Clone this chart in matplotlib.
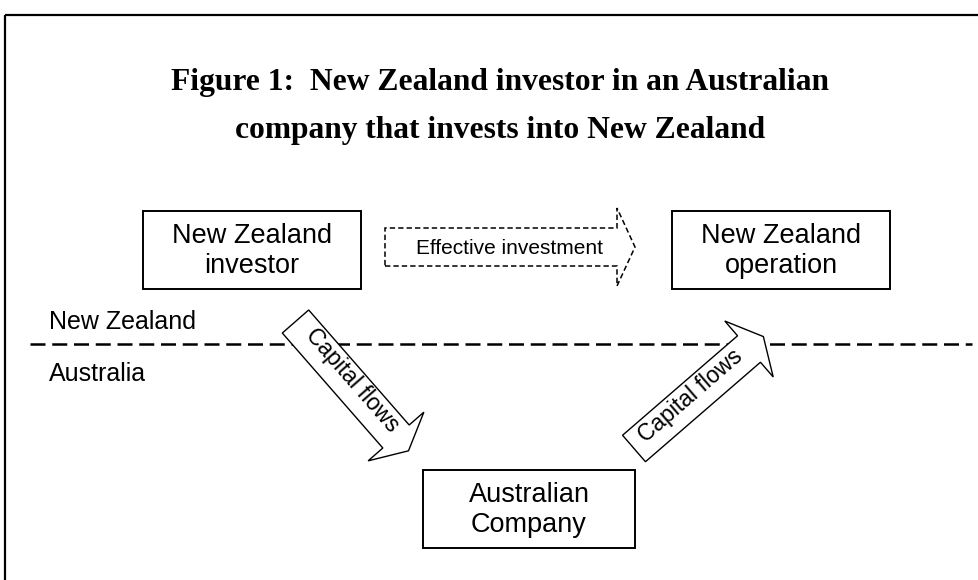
import numpy as np
import matplotlib
matplotlib.use("Agg")
import matplotlib.pyplot as plt
from matplotlib.patches import Polygon, Rectangle

# ---- content ----
title_lines = ["Figure 1:  New Zealand investor in an Australian",
               "company that invests into New Zealand"]
box_labels = ["New Zealand\ninvestor", "New Zealand\noperation", "Australian\nCompany"]
region_labels = ["New Zealand", "Australia"]
arrow_labels = ["Effective investment", "Capital flows", "Capital flows"]

W, H = 979, 580
fig = plt.figure(figsize=(W / 100, H / 100), dpi=100)
ax = fig.add_axes([0, 0, 1, 1])
ax.set_xlim(0, W)
ax.set_ylim(H, 0)
ax.axis("off")

serif = ["Liberation Serif", "DejaVu Serif"]
sans = ["Liberation Sans", "DejaVu Sans"]

# outer frame (top and left edges)
ax.plot([5, W], [15, 15], color="black", lw=1.6, solid_capstyle="butt")
ax.plot([5, 5], [15, H], color="black", lw=1.6, solid_capstyle="butt")

# title
ax.text(500, 90, title_lines[0], ha="center", va="baseline", fontsize=22.7,
        fontweight="bold", family=serif)
ax.text(500, 138, title_lines[1], ha="center", va="baseline", fontsize=22.7,
        fontweight="bold", family=serif)

# boxes
boxes = [(143, 211, 218, 78), (672, 211, 218, 78), (423, 470, 212, 78)]
for (x, y, w, h), lab in zip(boxes, box_labels):
    ax.add_patch(Rectangle((x, y), w, h, fill=False, ec="black", lw=1.4))
    ax.text(x + w / 2, y + h / 2 + 1, lab, ha="center", va="center",
            fontsize=19.5, family=sans, linespacing=1.2)

# border line between countries
ax.plot([30, 972], [344, 344], color="black", lw=1.8, dashes=(6, 2.7))
ax.text(49, 322, region_labels[0], ha="left", va="center", fontsize=18, family=sans)
ax.text(49, 374, region_labels[1], ha="left", va="center", fontsize=18, family=sans)


def arrow_poly(tail, base, shaft_hw, head_hw, head_len):
    tail = np.asarray(tail, float)
    base = np.asarray(base, float)
    d = base - tail
    u = d / np.hypot(*d)
    p = np.array([-u[1], u[0]])
    tip = base + u * head_len
    return np.array([
        tail + p * shaft_hw,
        base + p * shaft_hw,
        base + p * head_hw,
        tip,
        base - p * head_hw,
        base - p * shaft_hw,
        tail - p * shaft_hw,
    ])


# effective investment (dashed)
pts = arrow_poly((385, 247), (617, 247), 19, 39, 18)
ax.add_patch(Polygon(pts, closed=True, fill=False, ec="black", lw=1.1,
                     linestyle=(0, (3.5, 2))))
ax.text(510, 248, arrow_labels[0], ha="center", va="center", fontsize=15, family=sans)

# capital flows arrows
arrows = [((295.5, 321.5), (396, 436.5)), ((634, 448.5), (749, 349))]
text_pos = [(352, 380), (690, 396)]
for (t, b), lab, tp in zip(arrows, arrow_labels[1:], text_pos):
    pts = arrow_poly(t, b, 17.5, 37, 19)
    ax.add_patch(Polygon(pts, closed=True, fc="white", ec="black", lw=1.0, zorder=3))
    ang = -np.degrees(np.arctan2(b[1] - t[1], b[0] - t[0]))
    ax.text(tp[0], tp[1], lab, ha="center", va="center", rotation=ang,
            rotation_mode="anchor", fontsize=16.5, family=sans, zorder=4)

fig.savefig("out.png", dpi=100, facecolor="white")
